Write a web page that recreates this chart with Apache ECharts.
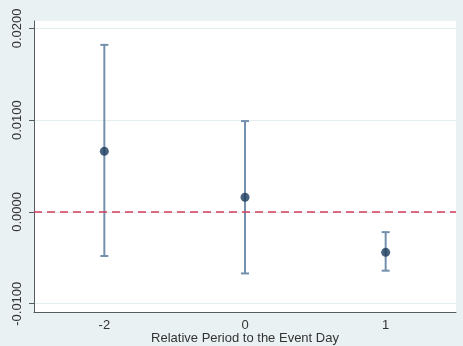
<!DOCTYPE html>
<html>
<head>
<meta charset="utf-8">
<script src="https://cdn.jsdelivr.net/npm/echarts@6/dist/echarts.min.js"></script>
<style>
  html, body { margin: 0; padding: 0; background: #eaf1f3; }
  #chart { width: 463px; height: 346px; }
</style>
</head>
<body>
<div id="chart"></div>
<script>
// relative period to the event day
const periods = ['-2', '0', '1']
// point estimates and confidence bounds
const estimates = [0.0066, 0.0016, -0.0044]
const ciLower = [-0.0048, -0.0067, -0.0064]
const ciUpper = [0.0182, 0.0099, -0.0022]
// y axis tick labels
const yTicks = [-0.01, 0, 0.01, 0.02]

const chart = echarts.init(document.getElementById('chart'))

const axisColor = '#555b60'
const textColor = '#333333'

chart.setOption({
  backgroundColor: '#eaf1f3',
  animation: false,
  textStyle: {
    fontFamily: 'Liberation Sans, Arial, sans-serif'
  },
  grid: {
    left: 34,
    right: 7,
    top: 21,
    bottom: 34,
    outerBoundsMode: 'none',
    show: true,
    backgroundColor: '#ffffff',
    borderWidth: 0
  },
  xAxis: {
    type: 'category',
    data: periods,
    boundaryGap: true,
    name: 'Relative Period to the Event Day',
    nameLocation: 'middle',
    nameGap: 20,
    nameMoveOverlap: false,
    nameTextStyle: {
      color: textColor,
      fontSize: 13
    },
    axisLine: {
      onZero: false,
      lineStyle: { color: axisColor, width: 1 }
    },
    axisTick: {
      alignWithLabel: true,
      length: 5,
      lineStyle: { color: axisColor }
    },
    axisLabel: {
      color: textColor,
      fontSize: 13,
      margin: 7
    },
    splitLine: { show: false }
  },
  yAxis: {
    type: 'value',
    min: -0.0109,
    max: 0.0208,
    axisLine: {
      show: true,
      lineStyle: { color: axisColor, width: 1 }
    },
    axisTick: {
      show: true,
      length: 5,
      customValues: yTicks,
      lineStyle: { color: axisColor }
    },
    axisLabel: {
      customValues: yTicks,
      rotate: 90,
      color: textColor,
      fontSize: 13,
      margin: 10,
      formatter: function (v) {
        return v.toFixed(4)
      }
    },
    splitLine: {
      show: true,
      lineStyle: { color: '#e4edf0', width: 1 }
    }
  },
  series: [
    {
      name: 'ci',
      type: 'custom',
      data: periods.map(function (p, i) {
        return [i, ciLower[i], ciUpper[i]]
      }),
      renderItem: function (params, api) {
        const lo = api.coord([api.value(0), api.value(1)])
        const hi = api.coord([api.value(0), api.value(2)])
        const cap = 4
        const style = { stroke: '#7490ac', lineWidth: 2 }
        return {
          type: 'group',
          children: [
            { type: 'line', shape: { x1: lo[0], y1: lo[1], x2: hi[0], y2: hi[1] }, style: style },
            { type: 'line', shape: { x1: lo[0] - cap, y1: lo[1], x2: lo[0] + cap, y2: lo[1] }, style: style },
            { type: 'line', shape: { x1: hi[0] - cap, y1: hi[1], x2: hi[0] + cap, y2: hi[1] }, style: style }
          ]
        }
      },
      encode: { x: 0, y: [1, 2] },
      z: 2
    },
    {
      name: 'estimate',
      type: 'scatter',
      data: estimates,
      symbol: 'circle',
      symbolSize: 9,
      itemStyle: { color: '#1a3b5d' },
      z: 3,
      markLine: {
        silent: true,
        symbol: 'none',
        label: { show: false },
        lineStyle: {
          color: '#d43c5a',
          width: 1.5,
          type: [8, 5]
        },
        data: [{ yAxis: 0 }]
      }
    }
  ]
})
</script>
</body>
</html>
